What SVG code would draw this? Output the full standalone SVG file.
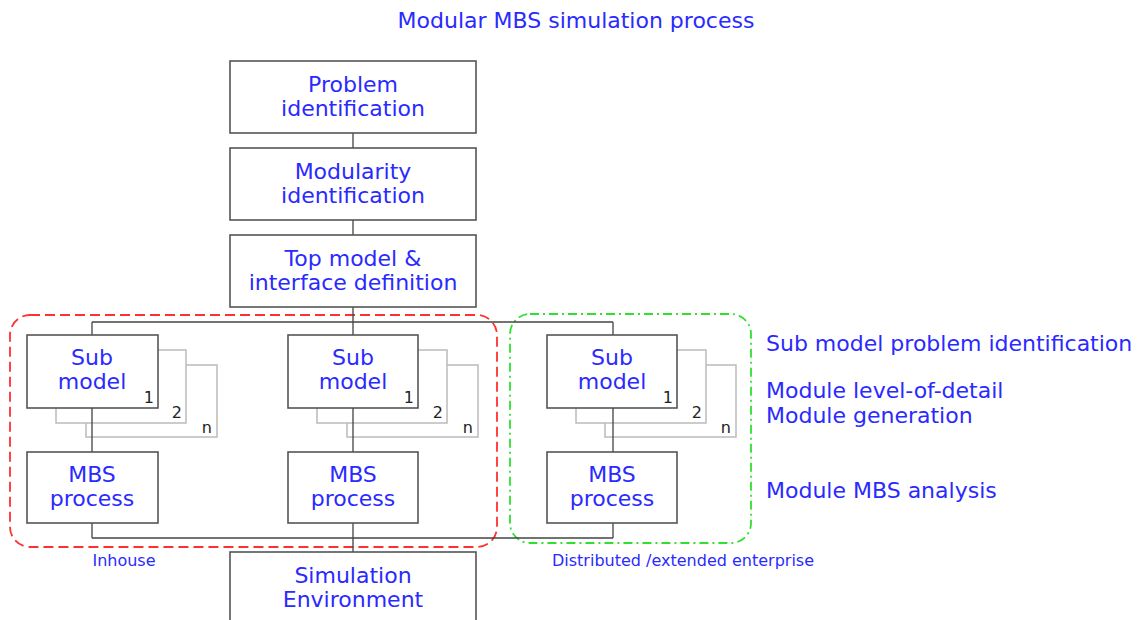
<svg xmlns="http://www.w3.org/2000/svg" width="1148" height="620" viewBox="0 0 1148 620">
<style>
.t{font-family:"DejaVu Sans","Liberation Sans",sans-serif;fill:#2a2aff;font-size:22px;text-anchor:middle}
.l{font-family:"DejaVu Sans","Liberation Sans",sans-serif;fill:#2a2aff;font-size:22px}
.s{font-family:"DejaVu Sans","Liberation Sans",sans-serif;fill:#2a2aff;font-size:16px}
.n{font-family:"DejaVu Sans","Liberation Sans",sans-serif;fill:#222;font-size:16px;text-anchor:end}
.box{fill:#fff;stroke:#555;stroke-width:1.6}
.gb{fill:#fff;stroke:#bbb;stroke-width:1.5}
.c{fill:none;stroke:#444;stroke-width:1.3}
</style>
<rect width="1148" height="620" fill="#fff"/>
<text class="t" x="576" y="28">Modular MBS simulation process</text>

<g id="region-inhouse">
<rect x="10" y="315" width="487" height="232" rx="20" fill="none" stroke="#ff3030" stroke-width="1.8" stroke-dasharray="10,5"/>
<text class="s" x="124" y="566" text-anchor="middle">Inhouse</text>
</g>
<g id="region-distributed">
<rect x="510" y="314" width="241" height="229" rx="20" fill="none" stroke="#30e030" stroke-width="1.8" stroke-dasharray="9,4,2,4"/>
<text class="s" x="683" y="566" text-anchor="middle">Distributed /extended enterprise</text>
</g>

<g id="connectors">
<path class="c" d="M353 133V148M353 220V235M353 307V322M92 322H613M92 322V335M353 322V335M613 322V335"/>
<path class="c" d="M92 523V538M353 523V538M613 523V538M92 538H613M353 538V552"/>
</g>

<g id="problem-identification">
<rect class="box" x="230" y="61" width="246" height="72"/>
<text class="t" x="353" y="92">Problem</text>
<text class="t" x="353" y="116">identification</text>
</g>
<g id="modularity-identification">
<rect class="box" x="230" y="148" width="246" height="72"/>
<text class="t" x="353" y="179">Modularity</text>
<text class="t" x="353" y="203">identification</text>
</g>
<g id="top-model">
<rect class="box" x="230" y="235" width="246" height="72"/>
<text class="t" x="353" y="266">Top model &amp;</text>
<text class="t" x="353" y="290">interface definition</text>
</g>

<g id="submodel-a">
<rect class="gb" x="86" y="365" width="131" height="72"/>
<text class="n" x="212" y="433">n</text>
<rect class="gb" x="56" y="350" width="130" height="73"/>
<text class="n" x="182" y="418">2</text>
<rect class="box" x="27" y="335" width="131" height="73"/>
<text class="t" x="92" y="365">Sub</text>
<text class="t" x="92" y="389">model</text>
<text class="n" x="154" y="403">1</text>
</g>
<g id="submodel-b">
<rect class="gb" x="347" y="365" width="131" height="72"/>
<text class="n" x="473" y="433">n</text>
<rect class="gb" x="317" y="350" width="130" height="73"/>
<text class="n" x="443" y="418">2</text>
<rect class="box" x="288" y="335" width="130" height="73"/>
<text class="t" x="353" y="365">Sub</text>
<text class="t" x="353" y="389">model</text>
<text class="n" x="414" y="403">1</text>
</g>
<g id="submodel-c">
<rect class="gb" x="605" y="365" width="131" height="72"/>
<text class="n" x="731" y="433">n</text>
<rect class="gb" x="576" y="350" width="130" height="73"/>
<text class="n" x="702" y="418">2</text>
<rect class="box" x="547" y="335" width="130" height="73"/>
<text class="t" x="612" y="365">Sub</text>
<text class="t" x="612" y="389">model</text>
<text class="n" x="673" y="403">1</text>
</g>

<g id="connectors-sub">
<path class="c" d="M92 408V452M353 408V452M613 408V452"/>
</g>

<g id="mbs-a">
<rect class="box" x="27" y="452" width="131" height="71"/>
<text class="t" x="92" y="482">MBS</text>
<text class="t" x="92" y="506">process</text>
</g>
<g id="mbs-b">
<rect class="box" x="288" y="452" width="130" height="71"/>
<text class="t" x="353" y="482">MBS</text>
<text class="t" x="353" y="506">process</text>
</g>
<g id="mbs-c">
<rect class="box" x="547" y="452" width="130" height="71"/>
<text class="t" x="612" y="482">MBS</text>
<text class="t" x="612" y="506">process</text>
</g>

<g id="simulation-environment">
<rect class="box" x="230" y="552" width="246" height="80"/>
<text class="t" x="353" y="583">Simulation</text>
<text class="t" x="353" y="607">Environment</text>
</g>

<g id="annotations">
<text class="l" x="766" y="351">Sub model problem identification</text>
<text class="l" x="766" y="398">Module level-of-detail</text>
<text class="l" x="766" y="423">Module generation</text>
<text class="l" x="766" y="498">Module MBS analysis</text>
</g>
</svg>
